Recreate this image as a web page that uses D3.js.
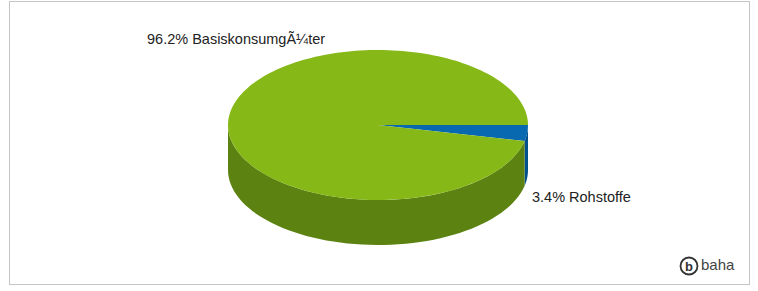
<!DOCTYPE html>
<html>
<head>
<meta charset="utf-8">
<script src="https://cdn.jsdelivr.net/npm/d3@7"></script>
<style>
  body { margin: 0; background: #fff; }
  svg { display: block; font-family: "Liberation Sans", Arial, sans-serif; }
</style>
</head>
<body>
<svg width="758" height="291"></svg>
<script>
'use strict';

var categories = ["Rohstoffe", "Basiskonsumg\u00C3\u00BCter"];
var values = [3.4, 96.2];
var labels = ["3.4% Rohstoffe", "96.2% Basiskonsumg\u00C3\u00BCter"];
var topColors = ["#0868b0", "#86b818"];
var sideColors = ["#00508c", "#5c8312"];

var svg = d3.select("svg");

// frame
svg.append("rect")
    .attr("x", 9.5).attr("y", 1.5)
    .attr("width", 740).attr("height", 283)
    .attr("fill", "#fff")
    .attr("stroke", "#c4c4c4");

var cx = 378, cy = 125, rx = 150, ry = 75, depth = 45;

var pie = d3.pie().sort(null)
    .startAngle(Math.PI / 2)
    .endAngle(Math.PI / 2 + 2 * Math.PI);

var arcs = pie(values);

// d3 angle -> screen ellipse point
function pt(theta, dy) {
    var t = theta - Math.PI / 2;
    return [cx + rx * Math.cos(t), cy + ry * Math.sin(t) + (dy || 0)];
}

function sidePath(a0, a1) {
    // only the front half of the rim is visible
    var parts = [];
    [0, 2 * Math.PI].forEach(function (off) {
        var s = Math.max(a0, Math.PI / 2 + off), e = Math.min(a1, 3 * Math.PI / 2 + off);
        if (e > s) parts.push([s, e]);
    });
    return parts.map(function (p) {
        var n = 60, top = [], bot = [];
        for (var i = 0; i <= n; i++) {
            var th = p[0] + (p[1] - p[0]) * i / n;
            top.push(pt(th, 0));
            bot.push(pt(th, depth));
        }
        return "M" + top.concat(bot.reverse()).map(function (q) { return q.join(","); }).join("L") + "Z";
    }).join("");
}

function topPath(a0, a1) {
    var n = Math.max(4, Math.ceil((a1 - a0) / (2 * Math.PI) * 200));
    var pts = [[cx, cy]];
    for (var i = 0; i <= n; i++) pts.push(pt(a0 + (a1 - a0) * i / n, 0));
    return "M" + pts.map(function (q) { return q.join(","); }).join("L") + "Z";
}

var g = svg.append("g");

g.selectAll("path.side")
    .data(arcs)
    .enter().append("path")
    .attr("class", "side")
    .attr("fill", function (d, i) { return sideColors[i]; })
    .attr("d", function (d) { return sidePath(d.startAngle, d.endAngle); });

g.selectAll("path.top")
    .data(arcs)
    .enter().append("path")
    .attr("class", "top")
    .attr("fill", function (d, i) { return topColors[i]; })
    .attr("d", function (d) { return topPath(d.startAngle, d.endAngle); });

// labels
var labelPos = [[532, 202], [147, 44]];
svg.selectAll("text.lbl")
    .data(labels)
    .enter().append("text")
    .attr("class", "lbl")
    .attr("x", function (d, i) { return labelPos[i][0]; })
    .attr("y", function (d, i) { return labelPos[i][1]; })
    .attr("font-size", 14.5)
    .attr("fill", "#222")
    .text(function (d) { return d; });

// baha logo
var logo = svg.append("g").attr("transform", "translate(689,266)");
logo.append("circle").attr("r", 8.5).attr("fill", "none").attr("stroke", "#333").attr("stroke-width", 1.8);
logo.append("text").attr("text-anchor", "middle").attr("y", 5)
    .attr("font-size", 13).attr("font-weight", "bold").attr("fill", "#333").text("b");
logo.append("text").attr("x", 12).attr("y", 3.5)
    .attr("font-size", 15).attr("fill", "#444").text("baha");
</script>
</body>
</html>
